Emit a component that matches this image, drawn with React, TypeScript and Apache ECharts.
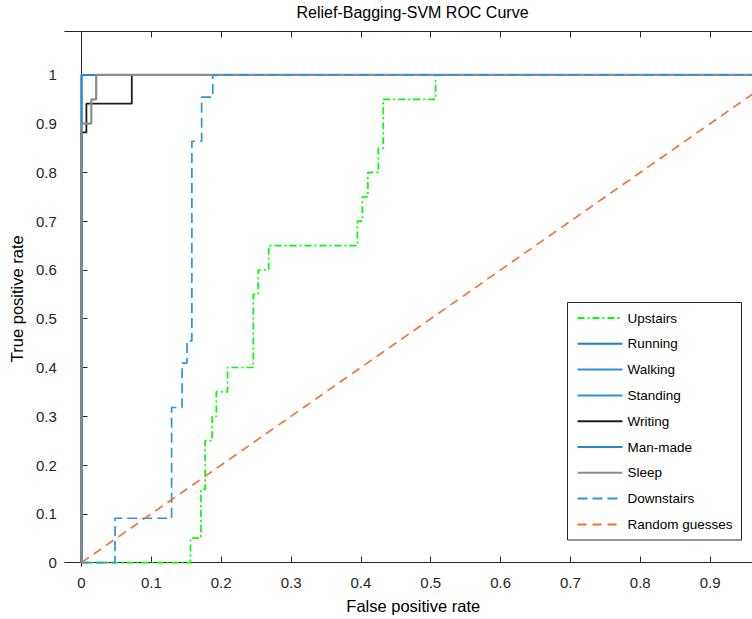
import React, { useEffect, useRef } from "react";
import * as echarts from "echarts";

const titleText = "Relief-Bagging-SVM ROC Curve";
const xLabelText = "False positive rate";
const yLabelText = "True positive rate";

const xTicks = [0, 0.1, 0.2, 0.3, 0.4, 0.5, 0.6, 0.7, 0.8, 0.9];
const yTicks = [0, 0.1, 0.2, 0.3, 0.4, 0.5, 0.6, 0.7, 0.8, 0.9, 1];

const upstairs: [number, number][] = [
  [0, 0], [0.156, 0], [0.156, 0.05], [0.171, 0.05], [0.171, 0.15], [0.177, 0.15],
  [0.177, 0.25], [0.187, 0.25], [0.187, 0.3], [0.193, 0.3], [0.193, 0.35],
  [0.209, 0.35], [0.209, 0.4], [0.246, 0.4], [0.246, 0.55], [0.253, 0.55],
  [0.253, 0.6], [0.268, 0.6], [0.268, 0.65], [0.395, 0.65], [0.395, 0.7],
  [0.402, 0.7], [0.402, 0.75], [0.41, 0.75], [0.41, 0.8], [0.425, 0.8],
  [0.425, 0.85], [0.432, 0.85], [0.432, 0.95], [0.507, 0.95], [0.507, 1], [1, 1],
];
const running: [number, number][] = [[0, 0], [0, 1], [1, 1]];
const walking: [number, number][] = [[0, 0], [0, 1], [1, 1]];
const standing: [number, number][] = [[0, 0], [0, 1], [1, 1]];
const writing: [number, number][] = [
  [0, 0], [0, 0.882], [0.007, 0.882], [0.007, 0.941], [0.072, 0.941], [0.072, 1], [1, 1],
];
const manMade: [number, number][] = [[0, 0], [0, 1], [1, 1]];
const sleep: [number, number][] = [
  [0, 0], [0, 0.9], [0.014, 0.9], [0.014, 0.95], [0.021, 0.95], [0.021, 1], [1, 1],
];
const downstairs: [number, number][] = [
  [0, 0], [0.048, 0], [0.048, 0.0909], [0.129, 0.0909], [0.129, 0.318], [0.144, 0.318],
  [0.144, 0.409], [0.151, 0.409], [0.151, 0.4545], [0.158, 0.4545], [0.158, 0.864],
  [0.172, 0.864], [0.172, 0.9545], [0.188, 0.9545], [0.188, 1], [1, 1],
];
const randomGuesses: [number, number][] = [[0, 0], [1, 1]];

const seriesNames = ["Upstairs", "Running", "Walking", "Standing", "Writing", "Man-made", "Sleep", "Downstairs", "Random guesses"];
const seriesData = [upstairs, running, walking, standing, writing, manMade, sleep, downstairs, randomGuesses];
const seriesColors = ["#00ff00", "#1a7fc6", "#2b93d3", "#2b93d3", "#1c1c1c", "#1f8ad0", "#8c8c8c", "#2a98d6", "#ff6a2c"];
const seriesDash: any[] = [[7, 3, 2, 3], "solid", "solid", "solid", "solid", "solid", "solid", [10, 5], [9, 6]];
const seriesWidth = [1.7, 1.6, 1.6, 1.6, 1.8, 1.6, 2.2, 1.7, 1.6];

const FONT = '"Liberation Sans", Arial, Helvetica, sans-serif';
const AXIS_COLOR = "#262626";

export default function App() {
  const ref = useRef<HTMLDivElement>(null);
  useEffect(() => {
    if (!ref.current) return;
    const chart = echarts.init(ref.current, undefined, { renderer: "svg" });
    const gridLeft = 63.2;
    const gridTop = 31.5;
    const gridWidth = 698.6;
    const gridHeight = 536;
    const option: any = {
      animation: false,
      backgroundColor: "#ffffff",
      textStyle: { fontFamily: FONT },
      title: {
        text: titleText,
        left: gridLeft + gridWidth / 2,
        textAlign: "center",
        top: 4,
        padding: 0,
        textStyle: { fontFamily: FONT, fontSize: 16, fontWeight: "normal", color: "#000" },
      },
      grid: { left: gridLeft, top: gridTop, width: gridWidth, height: gridHeight },
      xAxis: [
        {
          type: "value",
          min: -0.024,
          max: 0.974,
          position: "bottom",
          name: xLabelText,
          nameLocation: "middle",
          nameGap: 31,
          nameTextStyle: { fontFamily: FONT, fontSize: 16.5, color: "#000" },
          axisLine: { show: true, lineStyle: { color: AXIS_COLOR, width: 1 } },
          axisTick: { show: true, inside: true, length: 6, customValues: xTicks, lineStyle: { color: AXIS_COLOR } },
          axisLabel: { show: true, customValues: xTicks, margin: 9, fontFamily: FONT, fontSize: 15, color: AXIS_COLOR, formatter: (v: number) => String(v) },
          splitLine: { show: false },
        },
        {
          type: "value",
          min: -0.024,
          max: 0.974,
          position: "top",
          axisLine: { show: true, lineStyle: { color: AXIS_COLOR, width: 1 } },
          axisTick: { show: true, inside: true, length: 6, customValues: xTicks, lineStyle: { color: AXIS_COLOR } },
          axisLabel: { show: false },
          splitLine: { show: false },
        },
      ],
      yAxis: {
        type: "value",
        min: -0.007,
        max: 1.089,
        name: yLabelText,
        nameLocation: "middle",
        nameGap: 36,
        nameTextStyle: { fontFamily: FONT, fontSize: 16.5, color: "#000" },
        axisLine: { show: true, lineStyle: { color: AXIS_COLOR, width: 1 } },
        axisTick: { show: true, inside: true, length: 6, customValues: yTicks, lineStyle: { color: AXIS_COLOR } },
        axisLabel: { show: true, customValues: yTicks, margin: 8, fontFamily: FONT, fontSize: 15, color: AXIS_COLOR, formatter: (v: number) => String(v) },
        splitLine: { show: false },
      },
      legend: {
        orient: "vertical",
        left: 576.5,
        top: 311,
        itemWidth: 45,
        itemHeight: 14,
        itemGap: 11.8,
        padding: 0,
        z: 30,
        itemStyle: { color: "rgba(0,0,0,0)", borderColor: "rgba(0,0,0,0)", borderWidth: 0, opacity: 0 },
        textStyle: { fontFamily: FONT, fontSize: 13.5, color: "#000" },
        data: seriesNames,
      },
      graphic: [
        {
          type: "rect",
          z: 29,
          shape: { x: 567.5, y: 302.5, width: 174, height: 237.5 },
          style: { fill: "#ffffff", stroke: AXIS_COLOR, lineWidth: 1 },
        },
      ],
      series: seriesNames.map((name, i) => ({
        name,
        type: "line",
        xAxisIndex: 0,
        data: seriesData[i],
        symbol: "none",
        showSymbol: false,
        color: seriesColors[i],
        lineStyle: { color: seriesColors[i], width: seriesWidth[i], type: seriesDash[i] },
        z: 3 + i,
      })),
    };
    chart.setOption(option);
    return () => chart.dispose();
  }, []);
  return (
    <div style={{ position: "fixed", left: 0, top: 0, width: 752, height: 619, overflow: "hidden", background: "#fff" }}>
      <div ref={ref} style={{ width: 780, height: 619 }} />
    </div>
  );
}
